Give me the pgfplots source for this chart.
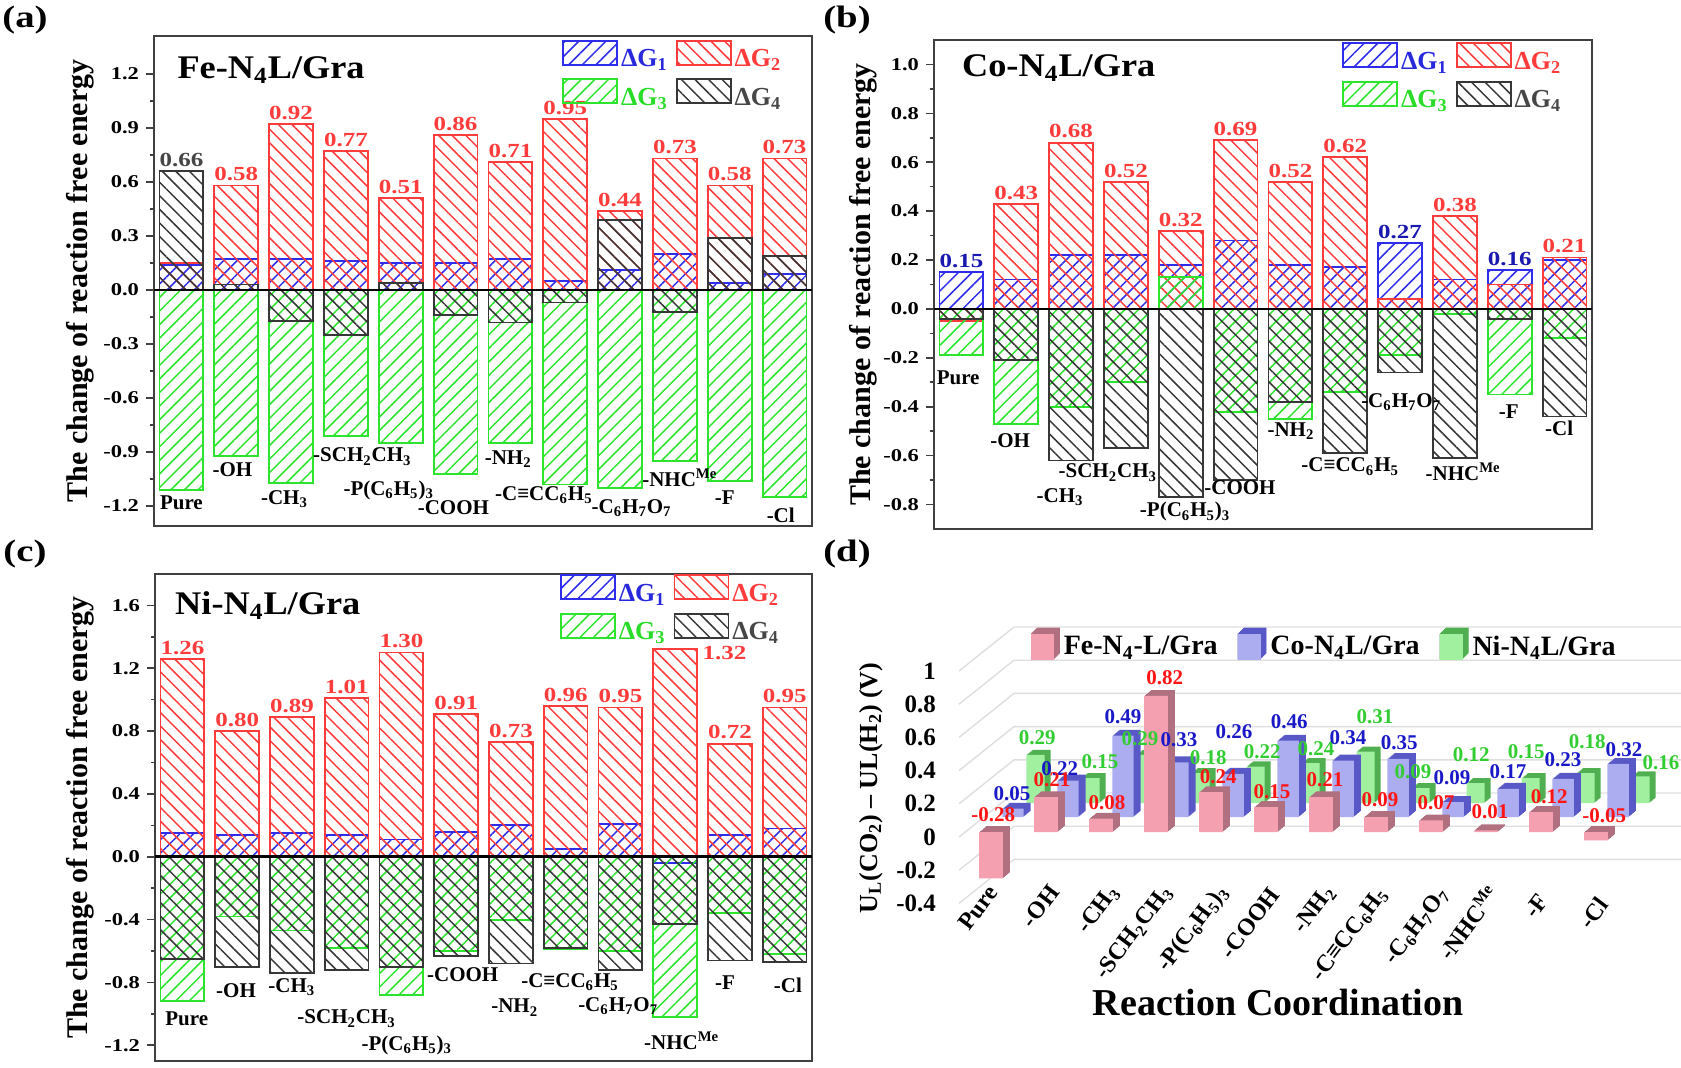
\documentclass[border=0pt]{standalone}
\usepackage{fontspec}
\setmainfont{Liberation Serif}
\newfontfamily\wide{Liberation Serif}[FakeStretch=1.25]
\newfontfamily\widet{Liberation Serif}[FakeStretch=1.1]
\usepackage{pgfplots}
\usepackage{pgfplotstable}
\pgfplotsset{compat=1.18}
\usetikzlibrary{patterns.meta}

\definecolor{cblue}{RGB}{45,45,235}
\definecolor{cred}{RGB}{255,60,60}
\definecolor{cgreen}{RGB}{45,228,45}
\definecolor{cblack}{RGB}{55,55,55}
\definecolor{tblue}{RGB}{40,40,220}
\definecolor{tred}{RGB}{255,60,60}
\definecolor{tgreen}{RGB}{40,220,40}
\definecolor{tgray}{RGB}{70,70,70}
\definecolor{lblue}{RGB}{25,25,175}
\definecolor{fef}{RGB}{244,160,176}
\definecolor{fes}{RGB}{176,112,128}
\definecolor{cof}{RGB}{172,172,240}
\definecolor{cos}{RGB}{88,88,198}
\definecolor{nif}{RGB}{160,240,160}
\definecolor{nis}{RGB}{80,175,80}
\definecolor{dred}{RGB}{255,20,20}
\definecolor{dblue}{RGB}{25,25,200}
\definecolor{dgreen}{RGB}{50,205,50}
\definecolor{gridc}{RGB}{222,222,222}

\newcommand\cubeimg[2]{%
 \fill[#2] (0pt,-6pt) -- (11pt,-6pt) -- (14pt,-3pt) -- (14pt,9.5pt) -- (3pt,9.5pt) -- (0pt,6.5pt) -- cycle;
 \fill[#1] (0pt,-6pt) rectangle (11pt,6.5pt);}

\pgfplotsset{
 boxlegend/.style={legend image code/.code={\draw[##1] (0pt,-2.5pt) rectangle (27pt,9.5pt);}},
 panel/.style={
  scale only axis, anchor=south west,
  xmin=-0.5, xmax=11.5, xtick=\empty, clip=false,
  axis line style={line width=1.2pt, black!75},
  ytick pos=left, tick align=outside,
  major tick length=4pt, minor tick length=2.2pt, minor tick num=1,
  tick style={line width=0.8pt, black!75},
  yticklabel style={font=\wide\bfseries\fontsize{9}{10}\selectfont, /pgf/number format/.cd, fixed, fixed zerofill, precision=1, assume math mode=true},
  ylabel={The change of reaction free energy},
  every axis y label/.style={at={(axis description cs:-0.112,0.5)}, rotate=90, anchor=center, font=\bfseries\fontsize{15}{17}\selectfont},
  legend columns=2,
  legend style={draw=none, fill=none, anchor=north west, inner sep=0pt, row sep=2.75pt, nodes={inner sep=1.5pt}, font=\bfseries\fontsize{13}{14}\selectfont, /tikz/every even column/.append style={column sep=2.5pt}},
 },
 gA/.style={ybar, bar width=0.8, bar shift=0pt, draw=cblue, line width=0.9pt, pattern={Lines[angle=45,distance=4.8pt,line width=0.75pt]}, pattern color=cblue, boxlegend},
 gB/.style={ybar, bar width=0.8, bar shift=0pt, draw=cred, line width=0.9pt, pattern={Lines[angle=-45,distance=4.8pt,line width=0.75pt]}, pattern color=cred, boxlegend},
 gC/.style={ybar, bar width=0.8, bar shift=0pt, draw=cgreen, line width=0.9pt, pattern={Lines[angle=45,distance=4.8pt,line width=0.75pt]}, pattern color=cgreen, boxlegend},
 gD/.style={ybar, bar width=0.8, bar shift=0pt, draw=cblack, line width=0.9pt, pattern={Lines[angle=-45,distance=4.8pt,line width=0.75pt]}, pattern color=cblack, boxlegend},
 zline/.style={black, line width=1.3pt, forget plot},
 vlab/.style={draw=none, forget plot, point meta=y, nodes near coords={\pgfmathprintnumber[fixed,fixed zerofill,precision=2,assume math mode=true]{\pgfplotspointmeta}}, every node near coord/.append style={font=\wide\bfseries\fontsize{10}{11}\selectfont, anchor=south, inner sep=2pt}},
 clab/.style={draw=none, forget plot, point meta=explicit symbolic, nodes near coords, every node near coord/.append style={font=\bfseries\fontsize{10.5}{12}\selectfont, anchor=center, inner sep=0pt}},
 dbar/.style={ybar, bar shift=0pt, draw=none, forget plot},
 dlab/.style={draw=none, forget plot, point meta=explicit, nodes near coords={\pgfmathprintnumber[fixed,fixed zerofill,precision=2,assume math mode=true]{\pgfplotspointmeta}}, every node near coord/.append style={font=\bfseries\fontsize{10.5}{12}\selectfont, anchor=center, inner sep=0pt}},
}

% ---------------- data (a) Fe ----------------
\pgfplotstableread{
x g1 g2 g3 g4
0 0.14 0.15 -1.11 0.66
1 0.17 0.58 -0.92 0.03
2 0.17 0.92 -1.07 -0.17
3 0.16 0.77 -0.81 -0.25
4 0.15 0.51 -0.85 0.04
5 0.15 0.86 -1.02 -0.14
6 0.17 0.71 -0.85 -0.18
7 0.05 0.95 -1.08 -0.07
8 0.11 0.44 -1.10 0.39
9 0.20 0.73 -0.95 -0.12
10 0.04 0.58 -1.06 0.29
11 0.09 0.73 -1.15 0.19
}\dataA
% ---------------- data (b) Co ----------------
\pgfplotstableread{
x g1 g2 g3 g4
0 0.15 -0.05 -0.19 -0.04
1 0.12 0.43 -0.47 -0.21
2 0.22 0.68 -0.40 -0.62
3 0.22 0.52 -0.30 -0.57
4 0.18 0.32 0.13 -0.77
5 0.28 0.69 -0.42 -0.70
6 0.18 0.52 -0.45 -0.38
7 0.17 0.62 -0.34 -0.59
8 0.27 0.04 -0.19 -0.26
9 0.12 0.38 -0.02 -0.61
10 0.16 0.10 -0.35 -0.04
11 0.20 0.21 -0.12 -0.44
}\dataB
% ---------------- data (c) Ni ----------------
\pgfplotstableread{
x g1 g2 g3 g4
0 0.15 1.26 -0.92 -0.65
1 0.14 0.80 -0.38 -0.70
2 0.15 0.89 -0.47 -0.74
3 0.14 1.01 -0.58 -0.72
4 0.11 1.30 -0.88 -0.70
5 0.16 0.91 -0.60 -0.63
6 0.20 0.73 -0.40 -0.68
7 0.05 0.96 -0.59 -0.58
8 0.21 0.95 -0.60 -0.72
9 -0.04 1.32 -1.02 -0.43
10 0.14 0.72 -0.36 -0.66
11 0.18 0.95 -0.62 -0.67
}\dataC
% ---------------- data (d) ----------------
\pgfplotstableread{
x fe co ni
0 -0.28 0.05 0.29
1 0.21 0.22 0.15
2 0.08 0.49 0.29
3 0.82 0.33 0.18
4 0.24 0.26 0.22
5 0.15 0.46 0.24
6 0.21 0.34 0.31
7 0.09 0.35 0.09
8 0.07 0.09 0.12
9 0.01 0.17 0.15
10 0.12 0.23 0.18
11 -0.05 0.32 0.16
}\dataD

\pgfplotstableread[col sep=comma]{
x,y,lab
0.00,-1.18,Pure
0.93,-1.00,-OH
1.88,-1.16,-CH\textsubscript{3}
3.30,-0.925,-SCH\textsubscript{2}CH\textsubscript{3}
3.78,-1.11,-P(C\textsubscript{6}H\textsubscript{5})\textsubscript{3}
4.96,-1.21,-COOH
5.96,-0.94,-NH\textsubscript{2}
6.61,-1.14,-C≡CC\textsubscript{6}H\textsubscript{5}
8.21,-1.21,-C\textsubscript{6}H\textsubscript{7}O\textsubscript{7}
9.09,-1.04,-NHC\textsuperscript{Me}
9.91,-1.15,-F
10.93,-1.25,-Cl
}\catA
\pgfplotstableread[col sep=comma]{
x,y,lab
-0.06,-0.28,Pure
0.89,-0.54,-OH
1.80,-0.77,-CH\textsubscript{3}
2.67,-0.67,-SCH\textsubscript{2}CH\textsubscript{3}
4.08,-0.83,-P(C\textsubscript{6}H\textsubscript{5})\textsubscript{3}
5.08,-0.73,-COOH
6.01,-0.50,-NH\textsubscript{2}
7.09,-0.645,-C≡CC\textsubscript{6}H\textsubscript{5}
8.02,-0.38,-C\textsubscript{6}H\textsubscript{7}O\textsubscript{7}
9.15,-0.665,-NHC\textsuperscript{Me}
9.98,-0.42,-F
10.90,-0.49,-Cl
}\catB
\pgfplotstableread[col sep=comma]{
x,y,lab
0.08,-1.03,Pure
0.98,-0.85,-OH
2.00,-0.83,-CH\textsubscript{3}
3.00,-1.03,-SCH\textsubscript{2}CH\textsubscript{3}
4.10,-1.20,-P(C\textsubscript{6}H\textsubscript{5})\textsubscript{3}
5.12,-0.75,-COOH
6.07,-0.96,-NH\textsubscript{2}
7.08,-0.80,-C≡CC\textsubscript{6}H\textsubscript{5}
7.96,-0.95,-C\textsubscript{6}H\textsubscript{7}O\textsubscript{7}
9.12,-1.17,-NHC\textsuperscript{Me}
9.91,-0.80,-F
11.06,-0.82,-Cl
}\catC
\pgfplotstableread[col sep=comma]{
x,y,lab
0.04,-0.337,Pure
1.15,-0.337,-OH
2.25,-0.337,-CH\textsubscript{3}
3.22,-0.337,-SCH\textsubscript{2}CH\textsubscript{3}
4.24,-0.337,-P(C\textsubscript{6}H\textsubscript{5})\textsubscript{3}
5.16,-0.35,-COOH
6.18,-0.337,-NH\textsubscript{2}
7.13,-0.35,-C≡CC\textsubscript{6}H\textsubscript{5}
8.24,-0.35,-C\textsubscript{6}H\textsubscript{7}O\textsubscript{7}
9.14,-0.337,-NHC\textsuperscript{Me}
10.04,-0.39,-F
11.13,-0.41,-Cl
}\catD

\pgfplotstableread{
lx ly v
0.04 0.102 -0.28
1.11 0.313 0.21
2.11 0.175 0.08
3.16 0.928 0.82
4.13 0.331 0.24
5.11 0.241 0.15
6.07 0.313 0.21
7.07 0.193 0.09
8.09 0.175 0.07
9.07 0.120 0.01
10.15 0.211 0.12
11.15 0.096 -0.05
}\labFe
\pgfplotstableread{
lx ly v
0.38 0.229 0.05
1.25 0.380 0.22
2.40 0.693 0.49
3.42 0.554 0.33
4.42 0.602 0.26
5.42 0.663 0.46
6.49 0.566 0.34
7.42 0.536 0.35
8.38 0.325 0.09
9.40 0.361 0.17
10.40 0.434 0.23
11.51 0.494 0.32
}\labCo
\pgfplotstableread{
lx ly v
0.84 0.566 0.29
1.98 0.422 0.15
2.71 0.560 0.29
3.95 0.446 0.18
4.93 0.482 0.22
5.91 0.500 0.24
6.98 0.693 0.31
7.67 0.361 0.09
8.73 0.464 0.12
9.73 0.482 0.15
10.84 0.542 0.18
12.18 0.416 0.16
}\labNi

\begin{document}
\begin{tikzpicture}
\useasboundingbox (0,0) rectangle (840.5pt,534pt);

% ================= (a) =================
\begin{axis}[panel, at={(77pt,271pt)}, width=329pt, height=245pt,
  ymin=-1.31, ymax=1.41, ytick={-1.2,-0.9,-0.6,-0.3,0,0.3,0.6,0.9,1.2},
  legend style={at={(axis description cs:0.62,0.993)}}]
\addplot[gA] table[x=x,y=g1]{\dataA}; \addlegendentry{\textcolor{tblue}{ΔG\textsubscript{1}}}
\addplot[gB] table[x=x,y=g2]{\dataA}; \addlegendentry{\textcolor{tred}{ΔG\textsubscript{2}}}
\addplot[gC] table[x=x,y=g3]{\dataA}; \addlegendentry{\textcolor{tgreen}{ΔG\textsubscript{3}}}
\addplot[gD] table[x=x,y=g4]{\dataA}; \addlegendentry{\textcolor{tgray}{ΔG\textsubscript{4}}}
\addplot[zline] coordinates {(-0.5,0) (11.5,0)};
\addplot[vlab, every node near coord/.append style={text=tred}] coordinates {(1,0.58) (2,0.92) (3,0.77) (4,0.51) (5,0.86) (6,0.71) (7,0.95) (8,0.44) (9,0.73) (10,0.58) (11,0.73)};
\addplot[vlab, every node near coord/.append style={text=tgray}] coordinates {(0,0.66)};
\addplot[clab] table[x=x,y=y,meta=lab]{\catA};
\node[anchor=west, font=\widet\bfseries\fontsize{16.5}{18}\selectfont] at (axis description cs:0.025,0.93) {Fe-N\textsubscript{4}L/Gra};
\end{axis}

% ================= (b) =================
\begin{axis}[panel, at={(467pt,269.5pt)}, width=329pt, height=244.5pt,
  ymin=-0.90, ymax=1.10, ytick={-0.8,-0.6,-0.4,-0.2,0,0.2,0.4,0.6,0.8,1.0},
  every axis y label/.append style={at={(axis description cs:-0.108,0.5)}},
  legend style={at={(axis description cs:0.62,0.996)}}]
\addplot[gA] table[x=x,y=g1]{\dataB}; \addlegendentry{\textcolor{tblue}{ΔG\textsubscript{1}}}
\addplot[gB] table[x=x,y=g2]{\dataB}; \addlegendentry{\textcolor{tred}{ΔG\textsubscript{2}}}
\addplot[gC] table[x=x,y=g3]{\dataB}; \addlegendentry{\textcolor{tgreen}{ΔG\textsubscript{3}}}
\addplot[gD] table[x=x,y=g4]{\dataB}; \addlegendentry{\textcolor{tgray}{ΔG\textsubscript{4}}}
\addplot[zline] coordinates {(-0.5,0) (11.5,0)};
\addplot[vlab, every node near coord/.append style={text=tred}] coordinates {(1,0.43) (2,0.68) (3,0.52) (4,0.32) (5,0.69) (6,0.52) (7,0.62) (9,0.38) (11,0.21)};
\addplot[vlab, every node near coord/.append style={text=lblue}] coordinates {(0,0.15) (8,0.27) (10,0.16)};
\addplot[clab] table[x=x,y=y,meta=lab]{\catB};
\node[anchor=west, font=\widet\bfseries\fontsize{16.5}{18}\selectfont] at (axis description cs:0.032,0.943) {Co-N\textsubscript{4}L/Gra};
\end{axis}

% ================= (c) =================
\begin{axis}[panel, at={(77.5pt,3.5pt)}, width=328.5pt, height=243.5pt,
  ymin=-1.30, ymax=1.80, ytick={-1.2,-0.8,-0.4,0,0.4,0.8,1.2,1.6},
  every axis y label/.append style={at={(axis description cs:-0.114,0.5)}},
  legend style={at={(axis description cs:0.616,1.0)}}]
\addplot[gA] table[x=x,y=g1]{\dataC}; \addlegendentry{\textcolor{tblue}{ΔG\textsubscript{1}}}
\addplot[gB] table[x=x,y=g2]{\dataC}; \addlegendentry{\textcolor{tred}{ΔG\textsubscript{2}}}
\addplot[gC] table[x=x,y=g3]{\dataC}; \addlegendentry{\textcolor{tgreen}{ΔG\textsubscript{3}}}
\addplot[gD] table[x=x,y=g4]{\dataC}; \addlegendentry{\textcolor{tgray}{ΔG\textsubscript{4}}}
\addplot[zline] coordinates {(-0.5,0) (11.5,0)};
\addplot[vlab, every node near coord/.append style={text=tred}] coordinates {(0,1.26) (1,0.80) (2,0.89) (3,1.01) (4,1.30) (5,0.91) (6,0.73) (7,0.96) (8,0.95) (10,0.72) (11,0.95)};
\addplot[vlab, point meta=explicit, every node near coord/.append style={text=tred, anchor=west}] coordinates {(9.42,1.30) [1.32]};
\addplot[clab] table[x=x,y=y,meta=lab]{\catC};
\node[anchor=west, font=\widet\bfseries\fontsize{16.5}{18}\selectfont] at (axis description cs:0.02,0.936) {Ni-N\textsubscript{4}L/Gra};
\end{axis}

% ================= (d) =================
\begin{axis}[at={(475pt,74pt)}, anchor=south west, scale only axis, width=365.5pt, height=160pt,
  xmin=-0.7455, xmax=12.545, ymin=-0.530, ymax=1.398, clip=false,
  axis line style={draw=none}, xtick=\empty, major tick length=0pt, tick style={draw=none},
  ytick={-0.4,-0.2,0,0.2,0.4,0.6,0.8,1},
  yticklabel style={font=\bfseries\fontsize{12.5}{13}\selectfont, xshift=-3.5pt, yshift=-2.5pt, /pgf/number format/assume math mode=true},
  ylabel={U\textsubscript{L}(CO\textsubscript{2}) – UL(H\textsubscript{2}) (V)},
  every axis y label/.style={at={(axis description cs:-0.108,0.4125)}, rotate=90, anchor=center, font=\bfseries\fontsize{13}{14}\selectfont},
  xlabel={Reaction Coordination},
  every axis x label/.style={at={(axis description cs:0.449,-0.259)}, anchor=center, font=\bfseries\fontsize{19}{21}\selectfont},
  legend columns=3,
  legend style={at={(axis cs:0.72,1.127)}, anchor=west, draw=none, fill=none, inner sep=0pt, font=\bfseries\fontsize{14}{15}\selectfont, /tikz/every even column/.append style={column sep=8pt}}]
\addlegendimage{legend image code/.code={\cubeimg{fef}{fes}}}\addlegendentry{Fe-N\textsubscript{4}-L/Gra}
\addlegendimage{legend image code/.code={\cubeimg{cof}{cos}}}\addlegendentry{Co-N\textsubscript{4}L/Gra}
\addlegendimage{legend image code/.code={\cubeimg{nif}{nis}}}\addlegendentry{Ni-N\textsubscript{4}L/Gra}
% perspective grid
\addplot[gridc, line width=0.7pt, forget plot] coordinates {(-0.582,-0.43) (0.418,-0.165) (12.545,-0.165)};
\addplot[gridc, line width=0.7pt, forget plot] coordinates {(-0.582,-0.23) (0.418,0.035) (12.545,0.035)};
\addplot[gridc, line width=0.7pt, forget plot] coordinates {(-0.582,-0.03) (0.418,0.235) (12.545,0.235)};
\addplot[gridc, line width=0.7pt, forget plot] coordinates {(-0.582,0.17) (0.418,0.435) (12.545,0.435)};
\addplot[gridc, line width=0.7pt, forget plot] coordinates {(-0.582,0.37) (0.418,0.635) (12.545,0.635)};
\addplot[gridc, line width=0.7pt, forget plot] coordinates {(-0.582,0.57) (0.418,0.835) (12.545,0.835)};
\addplot[gridc, line width=0.7pt, forget plot] coordinates {(-0.582,0.77) (0.418,1.035) (12.545,1.035)};
\addplot[gridc, line width=0.7pt, forget plot] coordinates {(-0.582,0.97) (0.418,1.235) (12.545,1.235)};
% Ni row (back)
\pgfplotsinvokeforeach{6,5,4,3,2,1}{
 \addplot[dbar, bar width=0.33, fill=nis, xshift=#1*0.5pt, yshift=14.5pt+#1*0.42pt] table[x expr=\thisrow{x}+0.81, y=ni]{\dataD};
}
\addplot[dbar, bar width=0.33, fill=nif, yshift=14.5pt] table[x expr=\thisrow{x}+0.81, y=ni]{\dataD};
% Co row
\pgfplotsinvokeforeach{7,6,5,4,3,2,1}{
 \addplot[dbar, bar width=0.39, fill=cos, xshift=#1*0.5pt, yshift=7.5pt+#1*0.42pt] table[x expr=\thisrow{x}+0.40, y=co]{\dataD};
}
\addplot[dbar, bar width=0.39, fill=cof, yshift=7.5pt] table[x expr=\thisrow{x}+0.40, y=co]{\dataD};
% Fe row (front)
\pgfplotsinvokeforeach{7,6,5,4,3,2,1}{
 \addplot[dbar, bar width=0.43, fill=fes, xshift=#1*0.5pt, yshift=#1*0.42pt] table[x=x, y=fe]{\dataD};
}
\addplot[dbar, bar width=0.43, fill=fef] table[x=x, y=fe]{\dataD};
% value labels
\addplot[dlab, every node near coord/.append style={text=dgreen}] table[x=lx,y=ly,meta=v]{\labNi};
\addplot[dlab, every node near coord/.append style={text=dblue}] table[x=lx,y=ly,meta=v]{\labCo};
\addplot[dlab, every node near coord/.append style={text=dred}] table[x=lx,y=ly,meta=v]{\labFe};
% category labels
\addplot[draw=none, forget plot, point meta=explicit symbolic, nodes near coords, every node near coord/.append style={font=\bfseries\fontsize{12}{13}\selectfont, anchor=east, rotate=53, inner sep=0pt}] table[x=x,y=y,meta=lab]{\catD};
\end{axis}

% panel letters
\node[font=\wide\bfseries\fontsize{15.5}{17}\selectfont] at (12.5pt,524pt) {(a)};
\node[font=\wide\bfseries\fontsize{15.5}{17}\selectfont] at (423.5pt,524pt) {(b)};
\node[font=\wide\bfseries\fontsize{15.5}{17}\selectfont] at (12.5pt,257pt) {(c)};
\node[font=\wide\bfseries\fontsize{15.5}{17}\selectfont] at (423.5pt,257pt) {(d)};
\end{tikzpicture}
\end{document}
